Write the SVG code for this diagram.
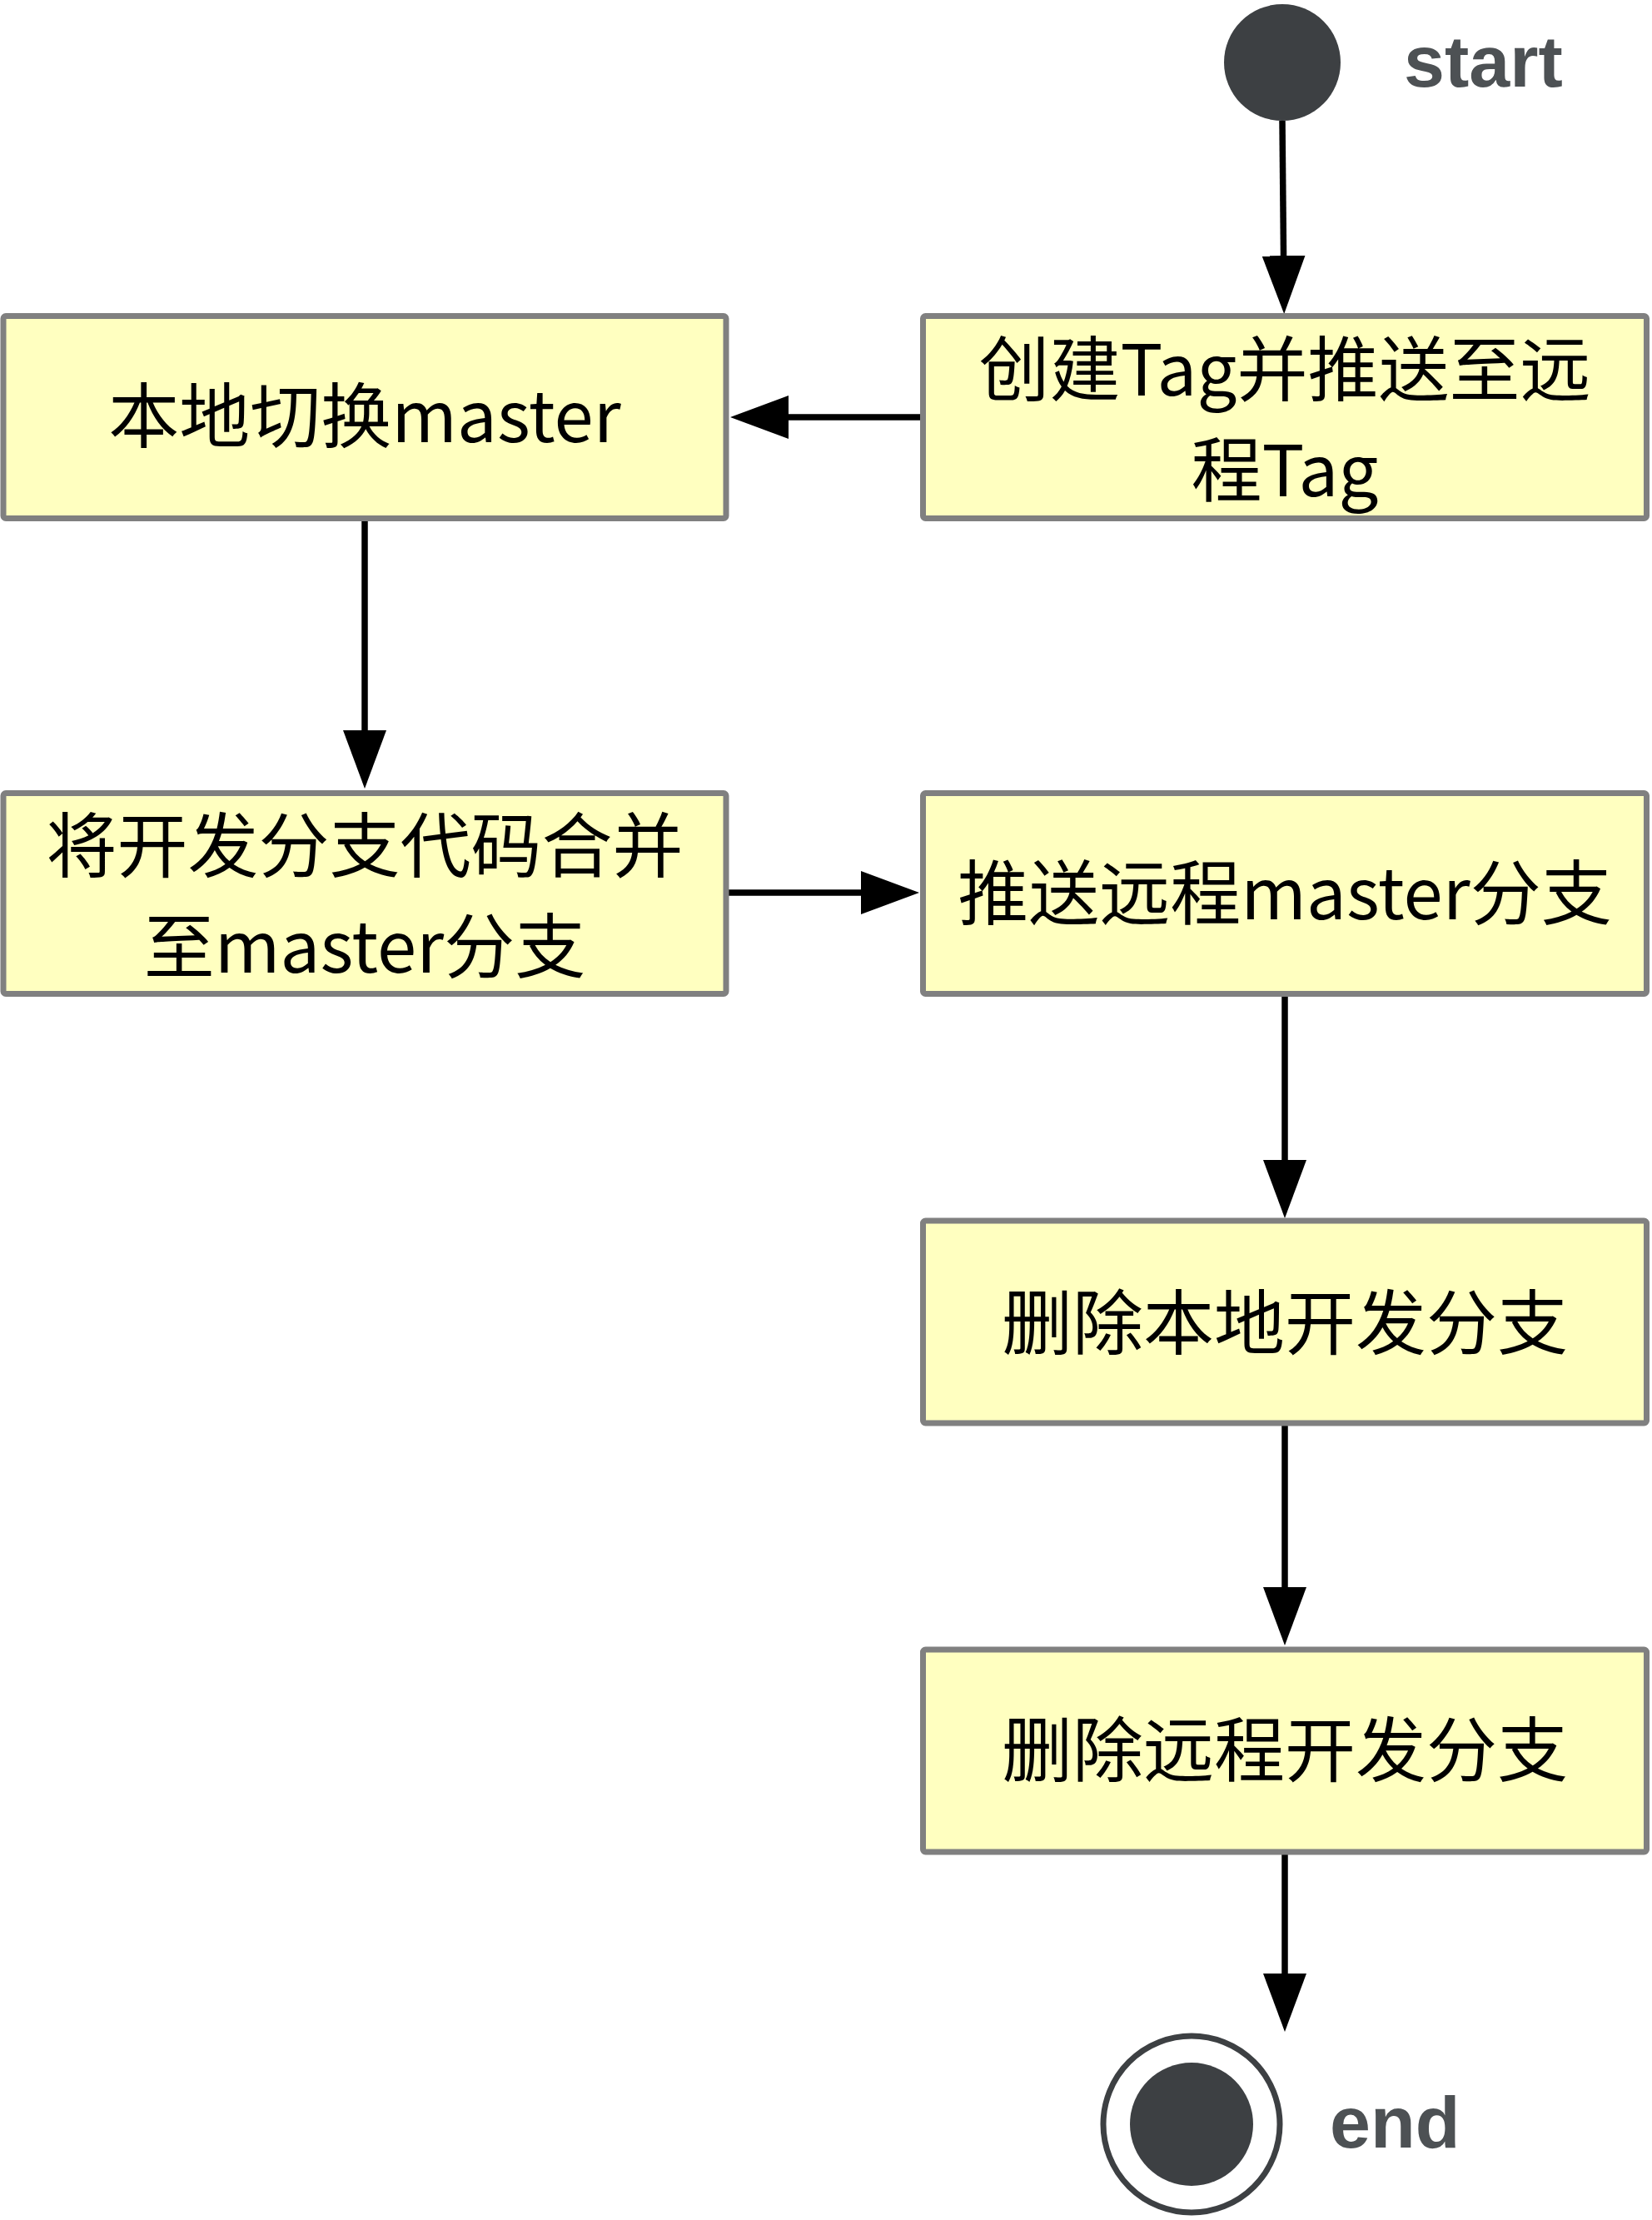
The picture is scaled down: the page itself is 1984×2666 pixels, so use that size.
<svg xmlns="http://www.w3.org/2000/svg" width="1984" height="2666" viewBox="0 0 1984 2666">
<defs>
<style>
.box{fill:#ffffc0;stroke:#808080;stroke-width:7;}
.t{font-family:"Noto Sans CJK SC","Liberation Sans",sans-serif;font-size:85px;fill:#000;text-anchor:middle;}
.lbl{font-family:"Liberation Sans","Noto Sans",sans-serif;font-weight:bold;font-size:88px;fill:#4d5154;}
.edge{stroke:#000;stroke-width:7.5;fill:none;marker-end:url(#arr);}
.dot{fill:#3d4043;}
</style>
<marker id="arr" markerUnits="userSpaceOnUse" markerWidth="70" markerHeight="52" refX="50" refY="26" orient="auto">
<path d="M0,0 L70,26 L0,52 Z" fill="#000"/>
</marker>
</defs>
<rect width="1984" height="2666" fill="#fff"/>
<g id="connectors">
<line class="edge" x1="1540" y1="145" x2="1542" y2="357"/>
<line class="edge" x1="1108" y1="501" x2="897" y2="501"/>
<line class="edge" x1="438" y1="623" x2="438" y2="927"/>
<line class="edge" x1="872" y1="1072" x2="1084" y2="1072"/>
<line class="edge" x1="1543" y1="1194" x2="1543" y2="1443"/>
<line class="edge" x1="1543" y1="1709" x2="1543" y2="1956"/>
<line class="edge" x1="1543" y1="2224" x2="1543" y2="2420"/>
</g>
<g id="start">
<circle class="dot" cx="1540" cy="75" r="70"/>
<text class="lbl" x="1686" y="104">start</text>
</g>
<g id="n1">
<rect class="box" x="1108.5" y="379.5" width="869" height="243" rx="3"/>
<text class="t" x="1543" y="475">创建Tag并推送至远</text>
<text class="t" x="1543" y="596">程Tag</text>
</g>
<g id="n2">
<rect class="box" x="4" y="379.5" width="868" height="243" rx="3"/>
<text class="t" x="438" y="531">本地切换master</text>
</g>
<g id="n3">
<rect class="box" x="4" y="952.5" width="868" height="241" rx="3"/>
<text class="t" x="438" y="1047">将开发分支代码合并</text>
<text class="t" x="438" y="1168">至master分支</text>
</g>
<g id="n4">
<rect class="box" x="1108.5" y="952.5" width="869" height="241" rx="3"/>
<text class="t" x="1543" y="1104">推送远程master分支</text>
</g>
<g id="n5">
<rect class="box" x="1108.5" y="1466" width="869" height="243" rx="3"/>
<text class="t" x="1543" y="1620">删除本地开发分支</text>
</g>
<g id="n6">
<rect class="box" x="1108.5" y="1981" width="869" height="243" rx="3"/>
<text class="t" x="1543" y="2133">删除远程开发分支</text>
</g>
<g id="end">
<circle cx="1431" cy="2551" r="106" fill="#fff" stroke="#3d4043" stroke-width="7"/>
<circle class="dot" cx="1431" cy="2551" r="74"/>
<text class="lbl" x="1597" y="2579">end</text>
</g>
</svg>
